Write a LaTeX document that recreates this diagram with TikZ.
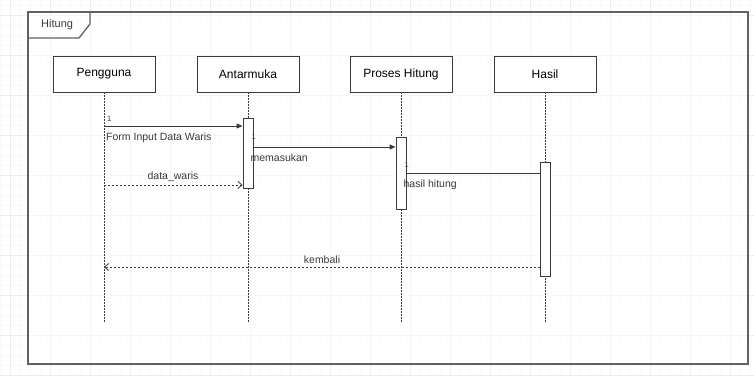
\documentclass[tikz,border=0pt]{standalone}
\usepackage{fontspec}
\setmainfont{Liberation Sans}
\usepackage{tikz}
\usetikzlibrary{calc,positioning,arrows.meta}
\usepackage{xcolor}

\definecolor{umlline}{HTML}{3A3A3A}

\tikzset{
    gridline/.style={gray!14, line width=0.6pt},
    gridminor/.style={gray!5, line width=0.4pt},
    umlframe/.style={draw=umlline!80, line width=1.3pt},
    actor/.style={draw=umlline, line width=0.9pt, fill=white, minimum width=102pt, minimum height=36pt, inner sep=0pt, font=\fontsize{12}{13}\selectfont},
    lifeline/.style={umlline, line width=0.8pt, dash pattern=on 1.5pt off 1.5pt},
    activation/.style={draw=umlline, line width=0.9pt, fill=white, minimum width=10pt, inner sep=0pt},
    msg/.style={umlline, line width=0.9pt, -{Triangle[length=6pt,width=5pt]}},
    reply/.style={umlline, line width=0.8pt, dash pattern=on 2pt off 2pt, -{Straight Barb[length=4pt,width=7pt]}},
    msglabel/.style={font=\fontsize{10.5}{11}\selectfont, text=umlline, inner sep=0pt},
    seqno/.style={font=\fontsize{7.5}{8}\selectfont, text=umlline, inner sep=0pt},
}

\begin{document}
\begin{tikzpicture}[x=1pt, y=-1pt]
        \useasboundingbox (0,0) rectangle (754,376);

        % Background grid
        \foreach \gx in {0,10,...,750} {
            \draw[gridminor] (\gx,0) -- (\gx,376);
        }
        \foreach \gy in {5,15,...,375} {
            \draw[gridminor] (0,\gy) -- (754,\gy);
        }
        \foreach \gx in {10,50,...,750} {
            \draw[gridline] (\gx,0) -- (\gx,376);
        }
        \foreach \gy in {15,55,...,375} {
            \draw[gridline] (0,\gy) -- (754,\gy);
        }

        % Frame with tab
        \draw[umlframe, fill=white, fill opacity=0.55] (28,12) rectangle (748,364);
        \draw[umlframe] (28,38) -- (79,38) -- (90,24) -- (90,12);
        \node[msglabel, font=\fontsize{11}{12}\selectfont, anchor=west] (tab) at (41,25) {Hitung};

        % Lifelines
        \foreach \nm/\lbl/\xc in {
            peng/Pengguna/104,
            antar/Antarmuka/248,
            proses/Proses Hitung/401,
            hasil/Hasil/545
        } {
            \node[actor] (\nm) at (\xc,74) {\lbl};
            \coordinate (\nm end) at (\xc,322);
            \draw[lifeline] (\nm.south) -- (\nm end);
        }

        % Activation bars
        \node[activation, minimum height=70pt] (actA) at (248,153) {};
        \node[activation, minimum height=72pt] (actP) at (401,173) {};
        \node[activation, minimum height=114pt] (actH) at (545,219) {};

        % Message start points
        \coordinate (m1) at (104,126);
        \coordinate (m2) at (actA.east |- 0,147);
        \coordinate (m3) at (actP.east |- 0,173);
        \coordinate (r1) at (104,185);
        \coordinate (r2) at (actH.west |- 0,267);

        % Messages
        \draw[msg] (m1) -- (m1 -| actA.west);
        \draw[msg] (m2) -- (m2 -| actP.west);
        \draw[umlline, line width=0.9pt] (m3) -- (m3 -| actH.west);
        \draw[reply] (r1) -- (r1 -| actA.west);
        \draw[reply] (r2) -- (r2 -| peng.south);

        % Message labels
        \node[seqno, anchor=west] (m1one) at ($(m1)+(3,-7)$) {1};
        \node[msglabel, anchor=west] (m1lbl) at ($(m1)+(2,12)$) {Form Input Data Waris};
        \node[seqno, anchor=west] (m2one) at ($(m2)+(-2,-10)$) {1};
        \node[msglabel, anchor=west] (m2lbl) at ($(m2)+(-3,11)$) {memasukan};
        \node[seqno, anchor=west] (m3one) at ($(m3)+(-2,-8)$) {1};
        \node[msglabel, anchor=west] (m3lbl) at ($(m3)+(-3,12)$) {hasil hitung};
        \node[msglabel] (r1lbl) at (173,177) {data\_waris};
        \node[msglabel] (r2lbl) at (322,260) {kembali};
    \end{tikzpicture}
\end{document}
